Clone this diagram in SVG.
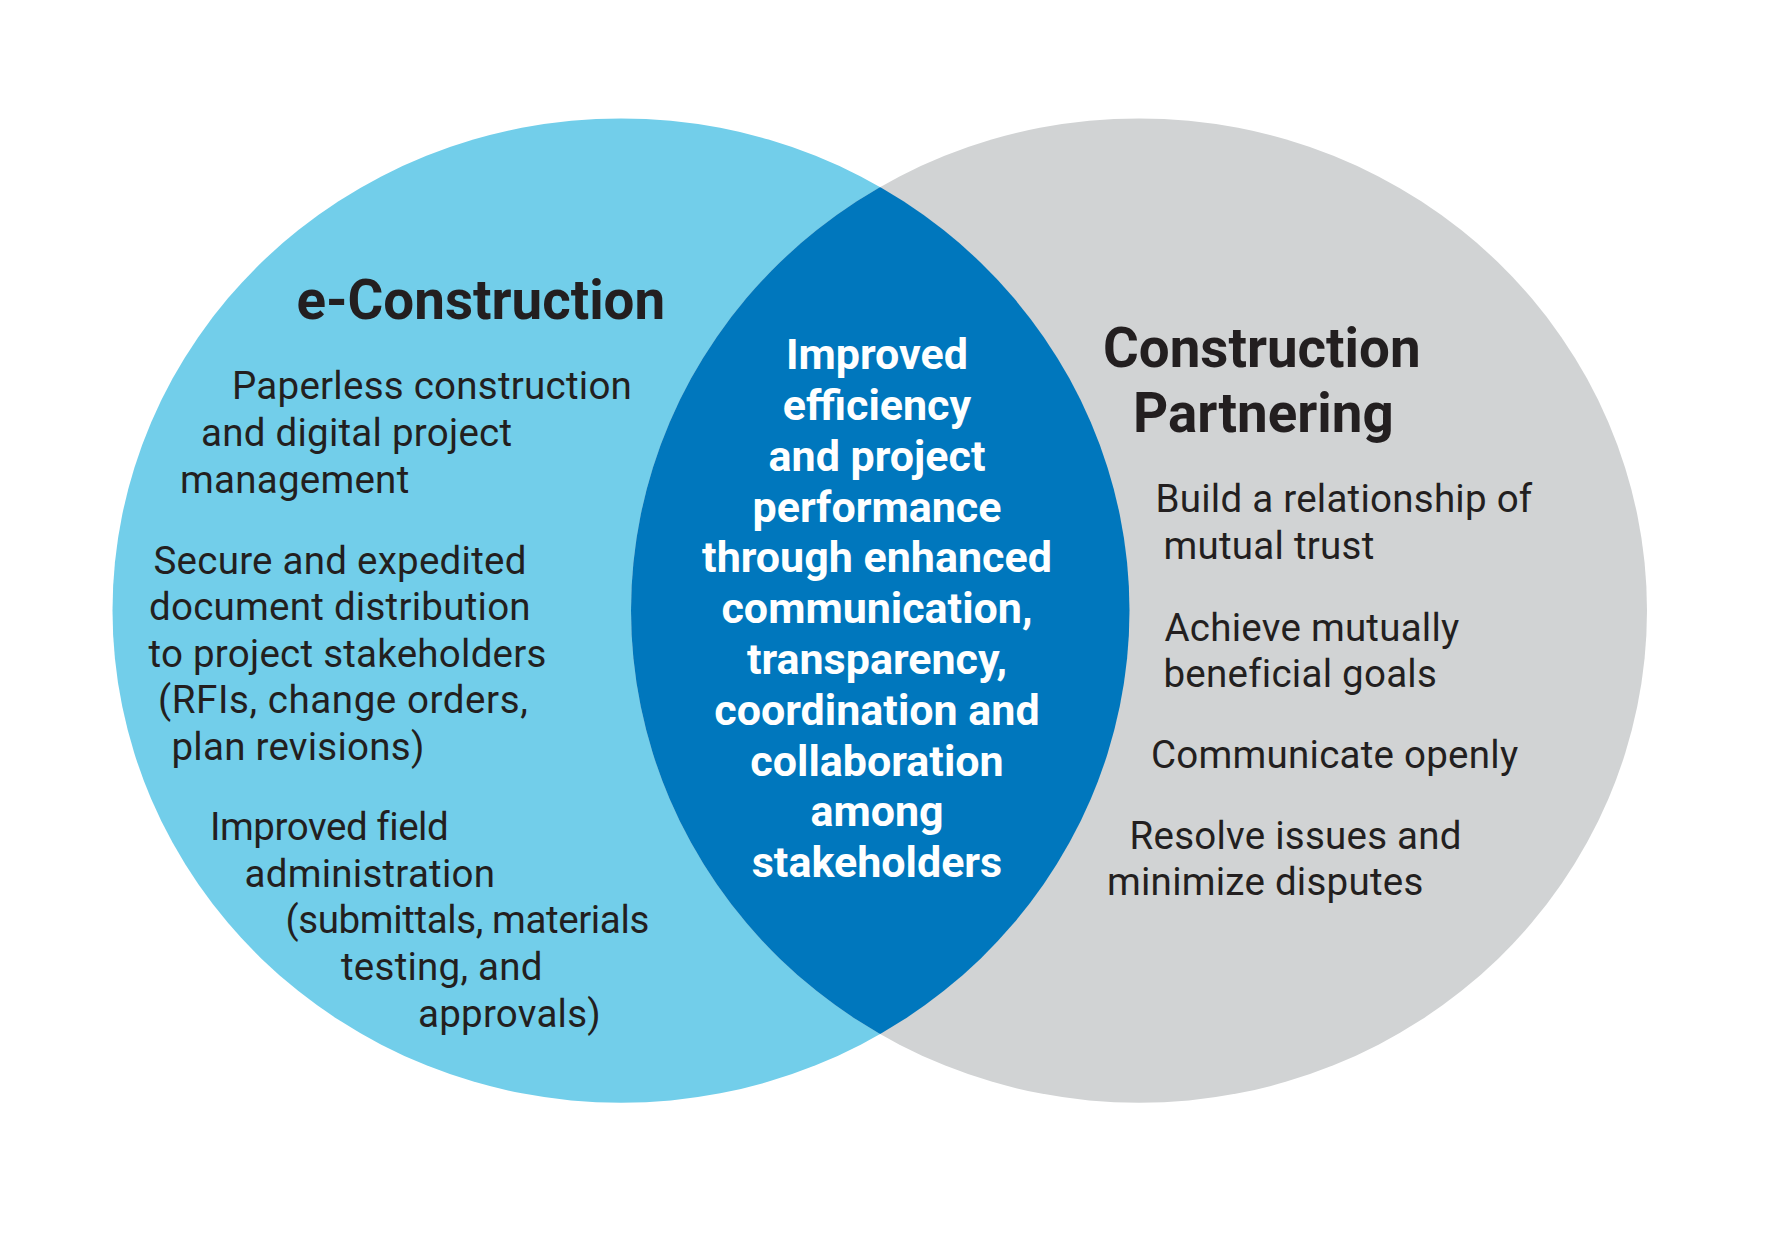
<svg xmlns="http://www.w3.org/2000/svg" width="1768" height="1248" viewBox="0 0 1768 1248">
<style>
.title{font-family:Roboto,"Liberation Sans",sans-serif;font-weight:700;font-size:54.7px;fill:#231F20}
.item{font-family:Roboto,"Liberation Sans",sans-serif;font-weight:400;font-size:38.5px;letter-spacing:0.25px;fill:#231F20}
.center{font-family:Roboto,"Liberation Sans",sans-serif;font-weight:700;font-size:43px;fill:#FFFFFF;text-anchor:middle}
</style>
<defs>
<clipPath id="leftClip"><ellipse cx="621" cy="610.6" rx="508.5" ry="492.2"/></clipPath>
</defs>
<rect width="1768" height="1248" fill="#FFFFFF"/>
<g id="e-construction">
<ellipse cx="621" cy="610.6" rx="508.5" ry="492.2" fill="#72CEEA"/>
</g>
<g id="construction-partnering">
<ellipse cx="1139" cy="610.6" rx="508" ry="492.2" fill="#D1D3D4"/>
</g>
<g id="overlap">
<ellipse cx="1139" cy="610.6" rx="508" ry="492.2" fill="#0077BD" clip-path="url(#leftClip)"/>
</g>
<g id="e-construction-text">
<text class="title" x="296.5" y="318.5">e-Construction</text>
<text class="item" x="232" y="399">Paperless construction</text>
<text class="item" x="201" y="445.5">and digital project</text>
<text class="item" x="180" y="492.5">management</text>
<text class="item" x="153.5" y="573.5">Secure and expedited</text>
<text class="item" x="149" y="620">document distribution</text>
<text class="item" x="148.5" y="666.5">to project stakeholders</text>
<text class="item" x="158" y="713" textLength="370" lengthAdjust="spacing">(RFIs, change orders,</text>
<text class="item" x="171.5" y="759.5">plan revisions)</text>
<text class="item" x="210" y="840" textLength="239" lengthAdjust="spacing">Improved field</text>
<text class="item" x="244.5" y="886.5">administration</text>
<text class="item" x="285.5" y="933.3" textLength="364" lengthAdjust="spacing">(submittals, materials</text>
<text class="item" x="341" y="980">testing, and</text>
<text class="item" x="418" y="1026.5">approvals)</text>
</g>
<g id="overlap-text">
<text class="center" x="877" y="369">Improved</text>
<text class="center" x="877" y="420">efficiency</text>
<text class="center" x="877" y="470.8">and project</text>
<text class="center" x="877" y="521.6">performance</text>
<text class="center" x="877" y="572.4">through enhanced</text>
<text class="center" x="877" y="623.2">communication,</text>
<text class="center" x="877" y="674">transparency,</text>
<text class="center" x="877" y="724.8">coordination and</text>
<text class="center" x="877" y="775.6">collaboration</text>
<text class="center" x="877" y="826.4">among</text>
<text class="center" x="877" y="877.2">stakeholders</text>
</g>
<g id="construction-partnering-text">
<text class="title" x="1103" y="366.5">Construction</text>
<text class="title" x="1133" y="431.5">Partnering</text>
<text class="item" x="1155.5" y="512.3">Build a relationship of</text>
<text class="item" x="1163.5" y="558.5">mutual trust</text>
<text class="item" x="1164.5" y="641">Achieve mutually</text>
<text class="item" x="1163.5" y="686.7">beneficial goals</text>
<text class="item" x="1151" y="767.7">Communicate openly</text>
<text class="item" x="1129.5" y="849.3">Resolve issues and</text>
<text class="item" x="1107" y="895">minimize disputes</text>
</g>
<g id="connectors"/>
</svg>
